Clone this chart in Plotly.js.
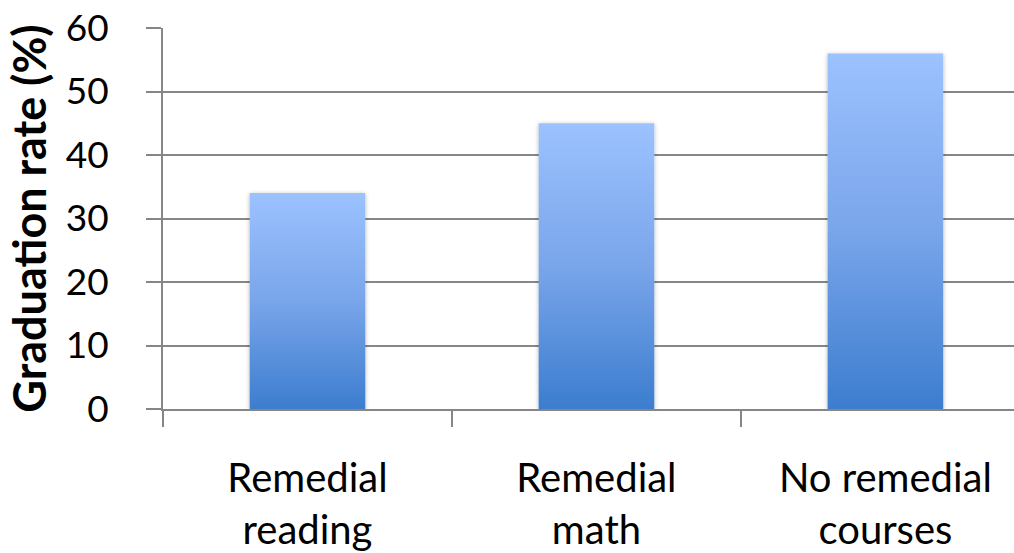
<!DOCTYPE html>
<html><head><meta charset="utf-8">
<script src="https://cdn.plot.ly/plotly-3.0.1.min.js"></script>
<style>html,body{margin:0;padding:0;background:#fff;}#chart{width:1014px;height:553px;}</style>
</head><body><div id="chart"></div>
<script>
const categories = ["Remedial<br>reading", "Remedial<br>math", "No remedial<br>courses"];
const graduationRate = [34, 45, 56];
const yTicks = [0, 10, 20, 30, 40, 50, 60];

const trace = {
  type: 'bar', x: categories, y: graduationRate, width: 0.4,
  marker: {color: '#6b9ae6', line: {width: 0}}, hoverinfo: 'none'
};
const gray = '#868686';
const layout = {
  width: 1014, height: 553,
  margin: {l: 163, r: 0, t: 28, b: 144},
  paper_bgcolor: '#fff', plot_bgcolor: '#fff',
  showlegend: false,
  font: {family: 'Lato, "Open Sans", sans-serif', color: '#000'},
  xaxis: {
    type: 'category', range: [-0.5, 2.445], tickson: 'boundaries',
    ticks: 'outside', ticklen: 16, tickwidth: 2, tickcolor: gray,
    showline: true, linecolor: gray, linewidth: 2,
    showgrid: false, tickfont: {size: 40}, ticklabelstandoff: 33
  },
  yaxis: {
    range: [0, 60], tickvals: yTicks, ticks: 'outside', ticklen: 15, tickwidth: 2, tickcolor: gray,
    showline: true, linecolor: gray, linewidth: 2,
    showgrid: true, gridcolor: gray, gridwidth: 2, zeroline: false,
    tickfont: {size: 37}, ticklabelstandoff: 30,
    title: {text: '<b>Graduation rate (%)</b>', font: {size: 45}, standoff: 5}
  }
};
Plotly.newPlot('chart', [trace], layout, {staticPlot: true}).then(function(gd){
  const svg = gd.querySelector('svg.main-svg');
  const ns = 'http://www.w3.org/2000/svg';
  let defs = svg.querySelector('defs');
  if (!defs) { defs = document.createElementNS(ns, 'defs'); svg.insertBefore(defs, svg.firstChild); }
  const lg = document.createElementNS(ns, 'linearGradient');
  lg.setAttribute('id', 'barGrad'); lg.setAttribute('x1', '0'); lg.setAttribute('y1', '0');
  lg.setAttribute('x2', '0'); lg.setAttribute('y2', '1');
  [['0', '#9cc2ff'], ['0.5', '#79a5ea'], ['1', '#3c7dcf']].forEach(function(s){
    const st = document.createElementNS(ns, 'stop');
    st.setAttribute('offset', s[0]); st.setAttribute('stop-color', s[1]);
    lg.appendChild(st);
  });
  defs.appendChild(lg);
  const f = document.createElementNS(ns, 'filter');
  f.setAttribute('id', 'barShadow'); f.setAttribute('x', '-10%'); f.setAttribute('y', '-10%');
  f.setAttribute('width', '120%'); f.setAttribute('height', '120%');
  const ds = document.createElementNS(ns, 'feDropShadow');
  ds.setAttribute('dx', '0'); ds.setAttribute('dy', '1'); ds.setAttribute('stdDeviation', '2');
  ds.setAttribute('flood-color', '#000'); ds.setAttribute('flood-opacity', '0.3');
  f.appendChild(ds); defs.appendChild(f);
  gd.querySelectorAll('.bars .point path').forEach(function(p){
    p.style.fill = 'url(#barGrad)';
    p.style.filter = 'url(#barShadow)';
  });
});
</script></body></html>
